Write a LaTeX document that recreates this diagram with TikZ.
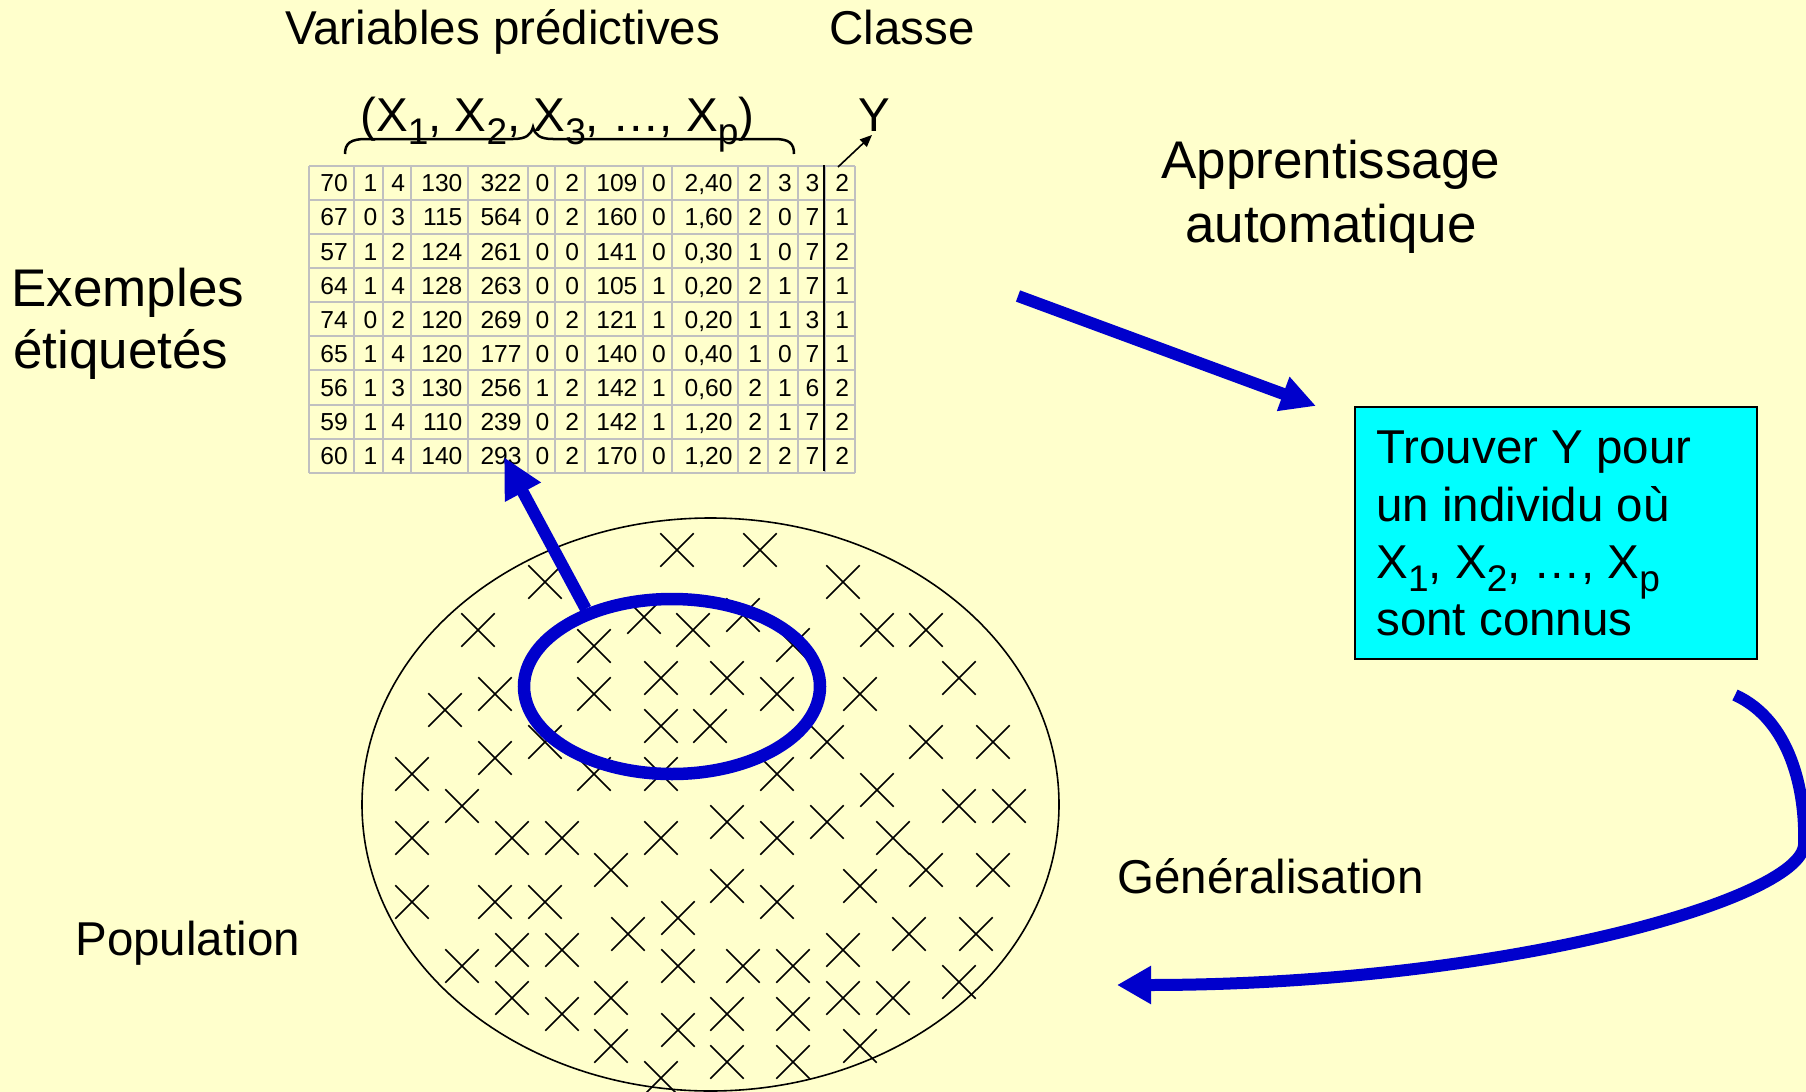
\documentclass[tikz,border=0pt]{standalone}
\usepackage{fontspec}
\usepackage{graphicx}
\setmainfont{Liberation Sans}
\usetikzlibrary{arrows.meta,shapes.geometric}
\definecolor{bg}{RGB}{255,255,204}
\definecolor{dblue}{RGB}{0,0,204}
\definecolor{boxcyan}{RGB}{0,255,255}
\definecolor{gridgray}{RGB}{192,192,192}
\newcommand\lsub[1]{\raisebox{-0.28em}{\scalebox{0.78}{#1}}}
\begin{document}
\begin{tikzpicture}[x=0.5pt,y=-0.5pt,
  lbl/.style={inner sep=0pt, font=\fontsize{23.75}{28.5}\selectfont},
  biglbl/.style={inner sep=0pt, font=\fontsize{26.5}{31.5}\selectfont},
  cell/.style={inner sep=0pt, anchor=base east, font=\fontsize{12.3}{14}\selectfont},
  gridline/.style={gridgray, line width=1pt},
  crossline/.style={line width=0.85pt},
  bluearrow/.style={dblue, line width=6pt},
]
\fill[bg] (0,0) rectangle (1806,1092);
\useasboundingbox (0,0) rectangle (1806,1092);

% ---- table grid
\foreach \xx in {309.2,353.6,383.2,411,468.3,527.5,555.3,584.9,643.3,671.8,738.4,768,797.6,825.3,855}
  \draw[gridline] (\xx,166) -- (\xx,472.7);
\foreach \i in {0,...,9}
  \draw[gridline] (309.2,{166+34.08*\i}) -- (855,{166+34.08*\i});

% ---- table values
\def\colx{{309.2,353.6,383.2,411,468.3,527.5,555.3,584.9,643.3,671.8,738.4,768,797.6,825.3,855}}
\foreach \row [count=\r] in {
  {70,1,4,130,322,0,2,109,0,2{,}40,2,3,3,2},
  {67,0,3,115,564,0,2,160,0,1{,}60,2,0,7,1},
  {57,1,2,124,261,0,0,141,0,0{,}30,1,0,7,2},
  {64,1,4,128,263,0,0,105,1,0{,}20,2,1,7,1},
  {74,0,2,120,269,0,2,121,1,0{,}20,1,1,3,1},
  {65,1,4,120,177,0,0,140,0,0{,}40,1,0,7,1},
  {56,1,3,130,256,1,2,142,1,0{,}60,2,1,6,2},
  {59,1,4,110,239,0,2,142,1,1{,}20,2,1,7,2},
  {60,1,4,140,293,0,2,170,0,1{,}20,2,2,7,2}}{
  \foreach \v [count=\c] in \row {
    \pgfmathsetmacro\xr{\colx[\c]-5.5}
    \pgfmathsetmacro\yb{166+34.08*(\r-0.5)+8.8}
    \node[cell] (t\r-\c) at (\xr,\yb) {\v};
  }
}
\draw[line width=1pt] (823.5,165) -- (823.5,471);

% ---- headers
\node[lbl, anchor=base west] (vp) at (285,45) {Variables prédictives};
\node[lbl, anchor=base west] (cl) at (829,45) {Classe};
\node[lbl, anchor=base west] (xs) at (360,131) {(X\lsub{1}, X\lsub{2}, X\lsub{3}, …, X\lsub{p})};
\node[lbl, anchor=base] (yy) at (874,131) {Y};
\draw[line width=1.25pt] (345,154) .. controls (345,143) and (351,139) .. (366,139) -- (513,139)
  .. controls (526,139) and (531,135) .. (533,127) .. controls (535,135) and (540,139) .. (553,139)
  -- (774,139) .. controls (789,139) and (794,143) .. (794,154);
\coordinate (ya) at (838,167);
\coordinate (yb) at (872,135);
\draw[line width=0.8pt, -{Triangle[length=6pt,width=5pt]}] (ya) -- (yb);

% ---- labels
\node[biglbl, anchor=base west] (ex1) at (11,306) {Exemples};
\node[biglbl, anchor=base west] (ex2) at (13,368.5) {étiquetés};
\node[lbl, anchor=base west] (popl) at (75,955) {Population};
\node[biglbl, anchor=base] (ap1) at (1331,178.5) {Apprentissage};
\node[biglbl, anchor=base] (ap2) at (1331,242) {automatique};
\node[lbl, anchor=base west] (gen) at (1117,893) {Généralisation};

% ---- box
\node[draw=black, fill=boxcyan, line width=1pt, minimum width=201pt, minimum height=126pt,
  inner sep=0pt, anchor=north west] (box) at (1354,406) {};
\node[lbl, anchor=base west] (b1) at (1376,463.3) {Trouver Y pour};
\node[lbl, anchor=base west] (b2) at (1376,521.7) {un individu où};
\node[lbl, anchor=base west] (b3) at (1376,578.3) {X\lsub{1}, X\lsub{2}, …, X\lsub{p}};
\node[lbl, anchor=base west] (b4) at (1376,635) {sont connus};

% ---- population
\node[ellipse, draw, line width=0.8pt, minimum width=348.5pt, minimum height=286.5pt, inner sep=0pt] (pop) at (710.5,804.5) {};
\foreach \px/\py in {677/550,760/550,545/582,843/582,644/617,743/615,478/630,693/630,877/630,926/630,
  594/646,793/645,661/678,727/678,959/678,495/694,594/694,777/694,860/694,445/710,
  661/726,710/726,545/742,827/742,926/742,993/742,495/758,412/774,594/774,661/774,
  777/774,877/790,462/806,959/806,1009/806,727/822,827/822,412/838,512/838,562/838,
  661/838,777/838,893/838,611/870,926/870,993/870,727/886,860/886,412/902,495/902,
  545/902,777/902,678/918,628/934,909/934,976/934,512/950,562/950,843/950,462/966,
  678/966,743/966,793/966,959/982,512/998,611/998,843/998,893/998,562/1014,727/1014,
  793/1014,678/1030,611/1046,860/1046,727/1062,793/1062,661/1078}
  \draw[crossline] (\px,\py) +(-16.7,-16.7) -- +(16.7,16.7) +(-16.7,16.7) -- +(16.7,-16.7);

\node[ellipse, draw=dblue, line width=6.25pt, minimum width=148pt, minimum height=87.5pt, inner sep=0pt] (sel) at (672,686.5) {};

% ---- blue arrows
\coordinate (tip1) at (504,457);
\draw[bluearrow, -{Triangle[length=20pt,width=19pt]}] (sel.138) -- (tip1);
\coordinate (a1) at (1018,296);
\coordinate (a2) at (1316,406);
\draw[bluearrow, -{Triangle[length=17.5pt,width=17pt]}] (a1) -- (a2);
\coordinate (g1) at (1735,695);
\coordinate (g2) at (1804,845);
\coordinate (g3) at (1117,985);
\draw[bluearrow, -{Triangle[length=17pt,width=18pt]}] (g1) .. controls (1790,720) and (1806,790) .. (g2)
  .. controls (1800,900) and (1500,985) .. (g3);
\end{tikzpicture}
\end{document}
